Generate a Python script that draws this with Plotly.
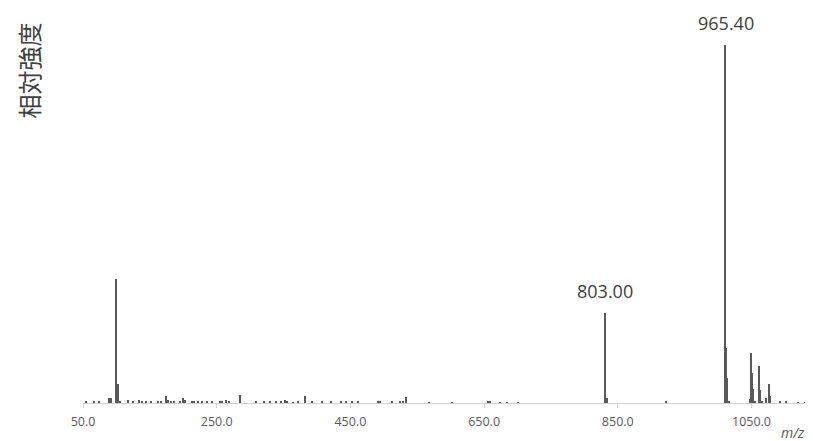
import plotly.graph_objects as go

# m/z positions of peaks and relative intensity (% of base peak)
mz = [55.1, 67.5, 75.0, 88.5, 91.5, 100.4, 103.4, 106.4, 117.0, 124.4,
      134.8, 138.0, 144.9, 152.8, 161.8, 166.3, 174.8, 177.8, 182.3, 187.2,
      194.7, 200.2, 203.2, 212.7, 217.1, 223.1, 229.1, 235.1, 242.6, 254.6,
      259.0, 264.6, 268.0, 284.9, 309.5, 320.4, 329.4, 338.4, 345.8, 351.8,
      354.8, 363.8, 371.3, 382.8, 392.2, 407.2, 420.6, 435.6, 444.1, 452.1,
      461.1, 491.0, 494.0, 512.0, 524.0, 528.5, 532.9, 567.3, 601.7, 655.6,
      658.6, 673.6, 684.0, 700.5, 830.6, 833.6, 923.0, 1011.2, 1012.7, 1014.2,
      1016.0, 1047.6, 1049.1, 1051.1, 1052.6, 1055.0, 1061.1, 1062.6, 1065.6, 1072.6,
      1076.5, 1078.0, 1092.5, 1102.5, 1119.4, 1129.9, 1137.4]
intensity = [0.3, 0.3, 0.3, 1.4, 1.4, 34.6, 5.3, 0.6, 0.9, 0.3,
             0.9, 0.5, 0.3, 0.3, 0.3, 0.3, 2.0, 0.8, 0.6, 0.3,
             0.6, 1.5, 0.8, 0.4, 0.4, 0.3, 0.4, 0.3, 0.3, 0.4,
             0.6, 0.9, 0.4, 2.1, 0.3, 0.3, 0.3, 0.3, 0.3, 0.9,
             0.4, 0.2, 0.3, 1.9, 0.3, 0.3, 0.3, 0.3, 0.4, 0.3,
             0.3, 0.3, 0.3, 0.3, 0.3, 0.4, 1.6, 0.2, 0.2, 0.3,
             0.3, 0.2, 0.2, 0.2, 25.1, 1.5, 0.3, 100.0, 15.4, 7.0,
             0.5, 1.2, 14.0, 8.4, 4.0, 0.6, 10.3, 3.5, 0.4, 1.5,
             5.2, 2.0, 0.6, 0.4, 0.2, 0.2, 0.2]

# labelled peaks
label_mz = [830.6, 1011.2]
label_text = ["803.00", "965.40"]

tick_vals = [50, 250, 450, 650, 850, 1050]
tick_text = ["50.0", "250.0", "450.0", "650.0", "850.0", "1050.0"]

fig = go.Figure()
fig.add_trace(go.Bar(x=mz, y=intensity, width=2.2,
                     marker=dict(color="#595959", line=dict(width=0)),
                     hoverinfo="x+y"))

for xm, t in zip(label_mz, label_text):
    yv = intensity[mz.index(xm)]
    fig.add_annotation(x=xm, y=yv, text=t, showarrow=False, yanchor="middle",
                       yshift=22, font=dict(family="Open Sans", size=18, color="#404040"))

fig.add_annotation(xref="paper", yref="paper", x=-0.1014, y=0.847, text="相対強度",
                   textangle=-90, showarrow=False, xanchor="left", yanchor="middle",
                   font=dict(family="Noto Sans CJK JP", size=24, color="#404040"))
fig.add_annotation(xref="x", yref="paper", x=1112, y=-0.0738, text="<i>m/z</i>",
                   showarrow=False, xanchor="center", yanchor="middle",
                   font=dict(family="Open Sans", size=14, color="#595959"))

# page body has an 8px margin, so the figure is sized/offset to compensate
fig.update_layout(
    width=805, height=433,
    margin=dict(l=75, r=0, t=2, b=38, autoexpand=False),
    plot_bgcolor="white", paper_bgcolor="white",
    showlegend=False, bargap=0, barmode="overlay",
    xaxis=dict(range=[50, 1142], tickvals=tick_vals, ticktext=tick_text,
               showgrid=False, zeroline=False, showline=True, linecolor="#d0d0d0",
               linewidth=1, ticks="outside", ticklen=4, tickcolor="#d0d0d0",
               automargin=False, ticklabelstandoff=3,
               tickfont=dict(family="Open Sans", size=12.5, color="#595959")),
    yaxis=dict(range=[0, 109.8], visible=False, showgrid=False, zeroline=False,
               automargin=False),
)

fig.write_html("out.html")
